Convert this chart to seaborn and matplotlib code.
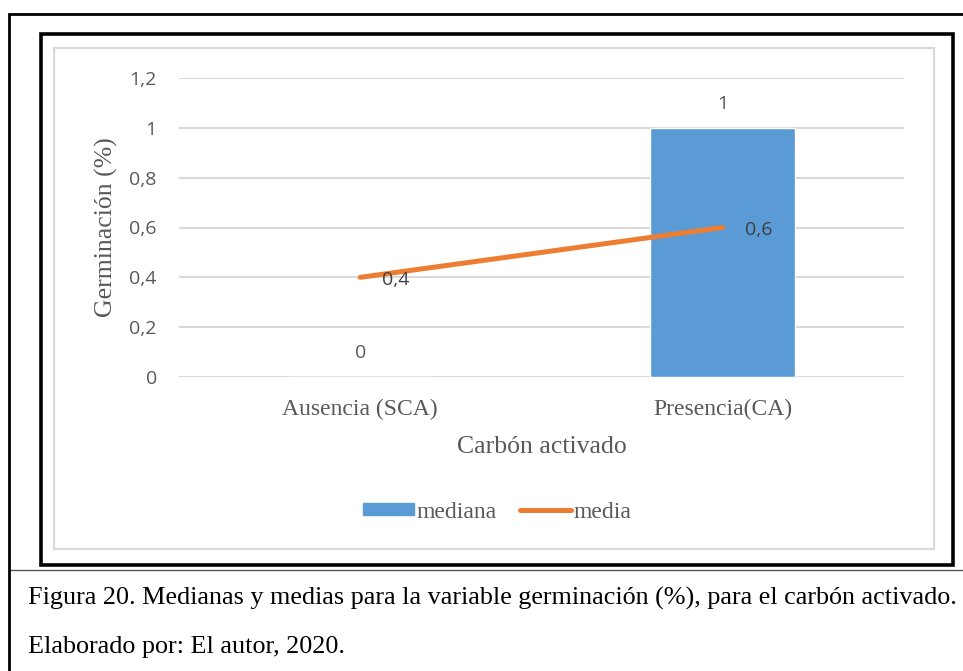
import matplotlib
matplotlib.use("Agg")
import matplotlib.pyplot as plt
import seaborn as sns
import pandas as pd
from matplotlib.patches import Patch, Rectangle
from matplotlib.lines import Line2D

# Data
categorias = ["Ausencia (SCA)", "Presencia(CA)"]
mediana = [0, 1]
media = [0.4, 0.6]
y_ticks = [0, 0.2, 0.4, 0.6, 0.8, 1.0, 1.2]

AZUL = "#5B9BD5"
NARANJA = "#ED7D31"
GRIS_TXT = "#595959"
GRIS_GRID = "#D9D9D9"

def coma(v):
    return f"{v:g}".replace(".", ",")

sns.set_style("white")
plt.rcParams["font.family"] = ["Open Sans", "DejaVu Sans"]

W, H = 963, 671
fig = plt.figure(figsize=(W / 100, H / 100), dpi=100)

def fx(px):
    return px / W

def fy(py):
    return 1 - py / H

# Frames around the chart and the caption table
for (x0, y0, x1, y1, lw, col) in [
    (9, 14, 970, 700, 2.0, "black"),        # outer cell
    (41, 34, 953, 565, 2.6, "black"),       # chart border
    (54, 48, 934, 549, 1.6, GRIS_GRID),     # chart area
]:
    fig.add_artist(Rectangle((fx(x0), fy(y1)), fx(x1 - x0), fy(y0) - fy(y1),
                             transform=fig.transFigure, fill=False,
                             edgecolor=col, linewidth=lw, zorder=5))
fig.add_artist(Line2D([fx(9), 1.0], [fy(570), fy(570)], transform=fig.transFigure,
                      color="#555555", linewidth=1.0))

ax = fig.add_axes([fx(179), fy(377), fx(904 - 179), fy(78) - fy(377)])

df = pd.DataFrame({"categoria": categorias, "mediana": mediana, "media": media})

sns.barplot(data=df, x="categoria", y="mediana", color=AZUL, width=0.4,
            saturation=1, ax=ax, zorder=2)
sns.pointplot(data=df, x="categoria", y="media", color=NARANJA, ax=ax,
              errorbar=None, markers="", zorder=3)
for ln in ax.lines:
    ln.set_linewidth(3.6)
    ln.set_marker("")
    ln.set_solid_capstyle("round")

ax.set_xlim(-0.5, 1.5)
ax.set_ylim(0, 1.2)
ax.set_yticks(y_ticks)
ax.set_yticklabels([coma(v) for v in y_ticks], color=GRIS_TXT, fontsize=14)
ax.yaxis.grid(True, color=GRIS_GRID, linewidth=1.5, zorder=0)
ax.set_axisbelow(True)
sns.despine(ax=ax, left=True, bottom=True)
ax.tick_params(axis="y", length=0, pad=16)
ax.tick_params(axis="x", length=0, pad=16)
for t in ax.get_xticklabels():
    t.set_family(["Liberation Serif"])
    t.set_fontsize(17)
    t.set_color(GRIS_TXT)

ax.set_xlabel("Carbón activado", family=["Liberation Serif"], fontsize=18.5,
              color=GRIS_TXT, labelpad=11)
ax.set_ylabel("Germinación (%)", family=["Liberation Serif"], fontsize=18.5,
              color=GRIS_TXT, labelpad=8)

# Value labels
ax.bar_label(ax.containers[0], labels=[coma(v) for v in mediana], padding=11,
             fontsize=14, color=GRIS_TXT)
for i, v in enumerate(media):
    ax.annotate(coma(v), (i, v), xytext=(16, -2), textcoords="offset points",
                ha="left", va="center", fontsize=14, color="#404040")

# Legend
handles = [Patch(facecolor=AZUL, edgecolor=AZUL, label="mediana"),
           Line2D([0], [0], color=NARANJA, linewidth=3.6, solid_capstyle="round",
                  label="media")]
fig.legend(handles=handles, loc="center", bbox_to_anchor=(fx(497), fy(512)),
           ncol=2, frameon=False, prop={"family": ["Liberation Serif"], "size": 17},
           labelcolor=GRIS_TXT, handlelength=2.15, handletextpad=0.1,
           columnspacing=1.0, handleheight=0.45)

# Caption
fig.text(fx(28), fy(598), "Figura 20. Medianas y medias para la variable germinación (%), para el carbón activado.",
         family=["Liberation Serif"], fontsize=18.8, color="black", ha="left", va="center")
fig.text(fx(28), fy(647), "Elaborado por: El autor, 2020.",
         family=["Liberation Serif"], fontsize=18.8, color="black", ha="left", va="center")

fig.savefig("out.png", dpi=100, facecolor="white")
